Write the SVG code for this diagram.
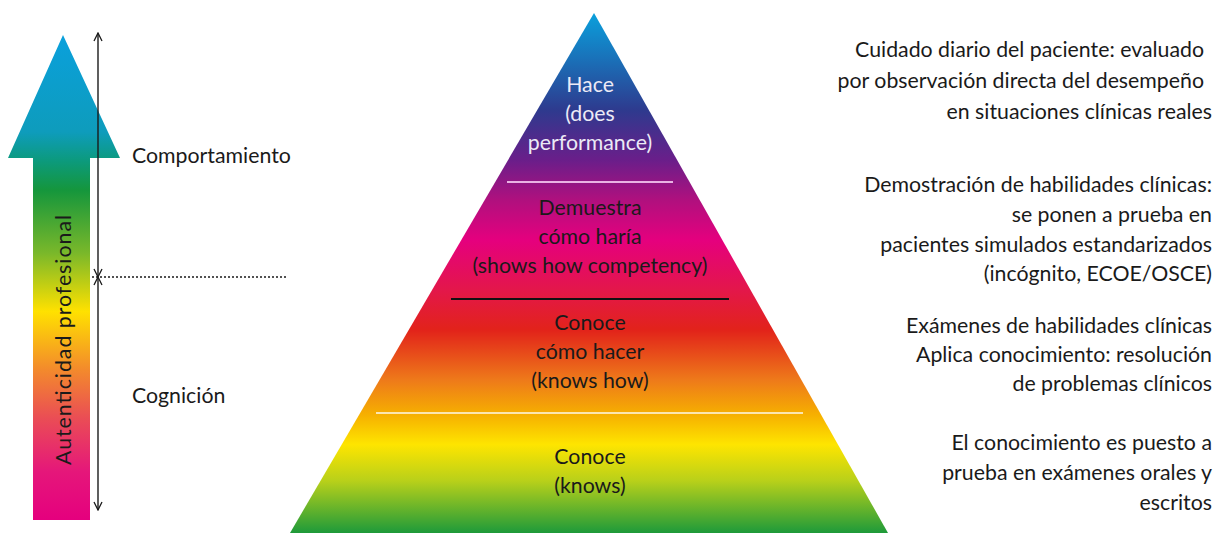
<svg xmlns="http://www.w3.org/2000/svg" width="1215" height="533" viewBox="0 0 1215 533">
<style>
text{font-family:Lato,"Open Sans","Liberation Sans",sans-serif;fill:#1a1a1a;font-size:21.3px}
.c{text-anchor:middle}
.r{text-anchor:end}
.w{fill:#eceaf6}
.ax{stroke:#1a1a1a;stroke-width:1.4;fill:none}
</style>
<defs>
<linearGradient id="ga" x1="0" y1="35" x2="0" y2="520" gradientUnits="userSpaceOnUse">
<stop offset="0" stop-color="#0aa0dc"/>
<stop offset="0.2" stop-color="#0e9cbc"/>
<stop offset="0.26" stop-color="#0c9a7c"/>
<stop offset="0.32" stop-color="#15963c"/>
<stop offset="0.45" stop-color="#7ab82a"/>
<stop offset="0.57" stop-color="#ffe100"/>
<stop offset="0.69" stop-color="#f38a2c"/>
<stop offset="0.79" stop-color="#ea4d55"/>
<stop offset="0.9" stop-color="#e5177a"/>
<stop offset="1" stop-color="#e5007e"/>
</linearGradient>
<linearGradient id="gp" x1="0" y1="13" x2="0" y2="533" gradientUnits="userSpaceOnUse">
<stop offset="0" stop-color="#0aa0dc"/>
<stop offset="0.09" stop-color="#1a70b8"/>
<stop offset="0.187" stop-color="#2e3a8e"/>
<stop offset="0.283" stop-color="#6a1e8a"/>
<stop offset="0.36" stop-color="#b0107e"/>
<stop offset="0.437" stop-color="#e5007e"/>
<stop offset="0.533" stop-color="#e3174a"/>
<stop offset="0.61" stop-color="#e2231a"/>
<stop offset="0.706" stop-color="#ee7a1a"/>
<stop offset="0.773" stop-color="#f6b000"/>
<stop offset="0.83" stop-color="#fee500"/>
<stop offset="0.9" stop-color="#b8d01a"/>
<stop offset="1" stop-color="#1e9a3a"/>
</linearGradient>
<marker id="m" viewBox="0 0 10 10" refX="9" refY="5" markerWidth="10" markerHeight="10" markerUnits="userSpaceOnUse" orient="auto-start-reverse">
<path d="M1,1 L9,5 L1,9" fill="none" stroke="#1a1a1a" stroke-width="1.3"/>
</marker>
</defs>

<g id="arrow-autenticidad">
<path d="M63,35 L120,158 L90,158 L90,520 L33,520 L33,158 L8,158 Z" fill="url(#ga)"/>
<text class="c" transform="translate(71,340) rotate(-90)" font-size="24" textLength="250">Autenticidad profesional</text>
</g>

<g id="connectors">
<line class="ax" x1="98" y1="33" x2="98" y2="277" marker-start="url(#m)" marker-end="url(#m)"/>
<line class="ax" x1="98" y1="277" x2="98" y2="510" marker-start="url(#m)" marker-end="url(#m)"/>
<line x1="92" y1="277" x2="287" y2="277" stroke="#1a1a1a" stroke-width="1.4" stroke-dasharray="2,2"/>
</g>

<g id="label-comportamiento"><text x="132" y="163">Comportamiento</text></g>
<g id="label-cognicion"><text x="132" y="403">Cognición</text></g>

<g id="pyramid">
<path d="M594,13 L888,533 L290,533 Z" fill="url(#gp)"/>
<line x1="507" y1="182" x2="673" y2="182" stroke="#e9b3e3" stroke-width="2.2"/>
<line x1="451" y1="299" x2="729" y2="299" stroke="#111" stroke-width="2"/>
<line x1="376" y1="413" x2="803" y2="413" stroke="#fbe6b0" stroke-width="2"/>
</g>

<g id="level-hace">
<text class="c w" x="590" y="92">Hace</text>
<text class="c w" x="590" y="121">(does</text>
<text class="c w" x="590" y="150">performance)</text>
</g>
<g id="level-demuestra">
<text class="c" x="590" y="215">Demuestra</text>
<text class="c" x="590" y="244">cómo haría</text>
<text class="c" x="590" y="273">(shows how competency)</text>
</g>
<g id="level-conoce-como">
<text class="c" x="590" y="330">Conoce</text>
<text class="c" x="590" y="359">cómo hacer</text>
<text class="c" x="590" y="388">(knows how)</text>
</g>
<g id="level-conoce">
<text class="c" x="590" y="464">Conoce</text>
<text class="c" x="590" y="493">(knows)</text>
</g>

<g id="desc-hace">
<text class="r" x="1204" y="57">Cuidado diario del paciente: evaluado</text>
<text class="r" x="1204" y="88">por observación directa del desempeño</text>
<text class="r" x="1212" y="119">en situaciones clínicas reales</text>
</g>
<g id="desc-demuestra">
<text class="r" x="1212" y="192">Demostración de habilidades clínicas:</text>
<text class="r" x="1212" y="222">se ponen a prueba en</text>
<text class="r" x="1212" y="252">pacientes simulados estandarizados</text>
<text class="r" x="1212" y="281">(incógnito, ECOE/OSCE)</text>
</g>
<g id="desc-conoce-como">
<text class="r" x="1212" y="333">Exámenes de habilidades clínicas</text>
<text class="r" x="1212" y="362">Aplica conocimiento: resolución</text>
<text class="r" x="1212" y="391">de problemas clínicos</text>
</g>
<g id="desc-conoce">
<text class="r" x="1212" y="450">El conocimiento es puesto a</text>
<text class="r" x="1212" y="480">prueba en exámenes orales y</text>
<text class="r" x="1212" y="510">escritos</text>
</g>
</svg>
